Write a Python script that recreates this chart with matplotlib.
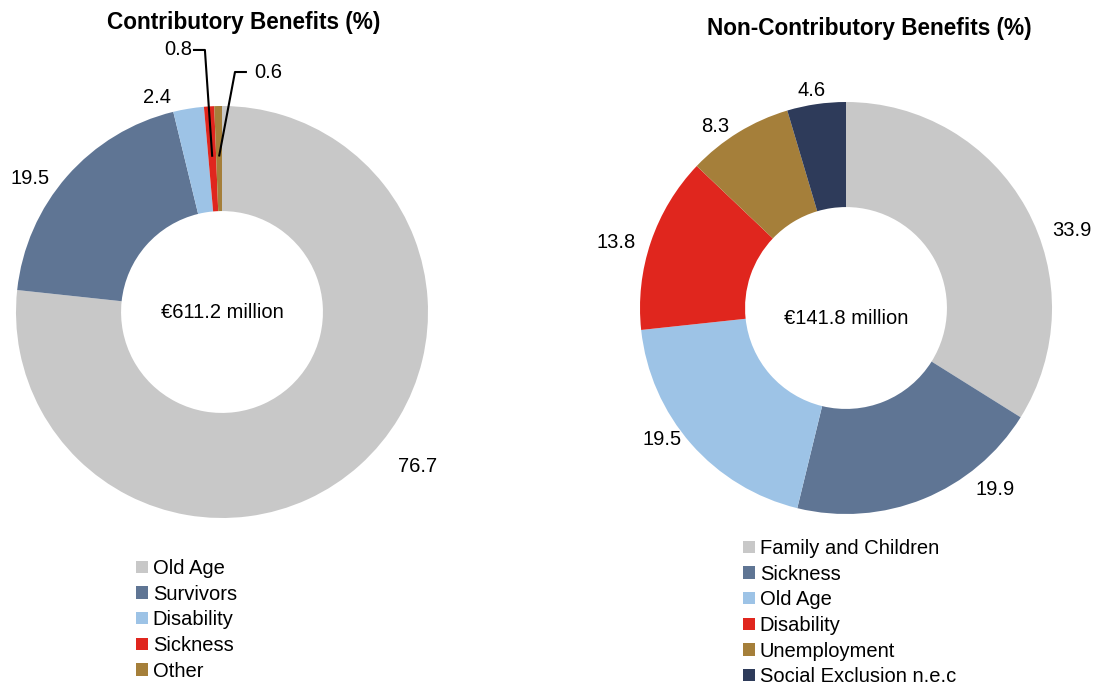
import numpy as np
import matplotlib
matplotlib.use("Agg")
import matplotlib.pyplot as plt
from matplotlib.patches import Patch

plt.rcParams['font.family'] = ['Liberation Sans', 'DejaVu Sans']

# data
contrib_labels = ["Old Age", "Survivors", "Disability", "Sickness", "Other"]
contrib_values = [76.7, 19.5, 2.4, 0.8, 0.6]
contrib_total = "€611.2 million"

noncontrib_labels = ["Family and Children", "Sickness", "Old Age", "Disability",
                     "Unemployment", "Social Exclusion n.e.c"]
noncontrib_values = [33.9, 19.9, 19.5, 13.8, 8.3, 4.6]
noncontrib_total = "€141.8 million"

# styles
contrib_colors = ["#C8C8C8", "#5F7594", "#9DC3E6", "#E0261E", "#A57F3A"]
noncontrib_colors = ["#C8C8C8", "#5F7594", "#9DC3E6", "#E0261E", "#A57F3A", "#2E3B5A"]

# label positions, in units of the outer radius
contrib_label_xy = [(0.951, -0.748), (-0.932, 0.650), (-0.316, 1.039),
                    (-0.214, 1.272), (0.223, 1.165)]
contrib_elbows = {3: ((-0.141, 1.272), (-0.083, 1.272)),
                  4: ((0.121, 1.165), (0.063, 1.165))}
noncontrib_label_xy = [(1.097, 0.374), (0.723, -0.879), (-0.893, -0.636),
                       (-1.117, 0.320), (-0.636, 0.883), (-0.165, 1.058)]

W, H = 1096, 686
FS = 14.5
fig = plt.figure(figsize=(W / 100, H / 100), dpi=100)


def donut(cx, cy, R, values, colors, label_xy, total, total_dy, elbows=None):
    ax = fig.add_axes([(cx - R) / W, (H - cy - R) / H, 2 * R / W, 2 * R / H])
    wedges, _ = ax.pie(values, colors=colors, startangle=90, counterclock=False,
                       radius=1, wedgeprops=dict(width=0.51, linewidth=0))
    ax.set_xlim(-1, 1)
    ax.set_ylim(-1, 1)
    ax.axis('off')
    for i, (v, (x, y)) in enumerate(zip(values, label_xy)):
        ax.text(x, y, f"{v:.1f}", ha='center', va='center', fontsize=FS,
                clip_on=False)
        if elbows and i in elbows:
            w = wedges[i]
            mid = np.deg2rad((w.theta1 + w.theta2) / 2)
            (x0, y0), (x1, y1) = elbows[i]
            ax.plot([x0, x1, 0.755 * np.cos(mid)], [y0, y1, 0.755 * np.sin(mid)],
                    color='black', lw=1.5, clip_on=False, solid_capstyle='butt')
    ax.text(0, total_dy, total, ha='center', va='center', fontsize=FS)
    return ax


donut(222, 312, 206, contrib_values, contrib_colors, contrib_label_xy,
      contrib_total, 0.0, contrib_elbows)
donut(846, 308, 206, noncontrib_values, noncontrib_colors, noncontrib_label_xy,
      noncontrib_total, -0.05)

fig.text(244 / W, 1 - 22 / H, "Contributory Benefits (%)", ha='center',
         va='center', fontsize=16.3, fontweight='bold')
fig.text(869 / W, 1 - 28 / H, "Non-Contributory Benefits (%)", ha='center',
         va='center', fontsize=16.3, fontweight='bold')


def legend(labels, colors, x, y):
    handles = [Patch(facecolor=c, edgecolor='none') for c in colors]
    fig.legend(handles, labels, loc='upper left', bbox_to_anchor=(x / W, 1 - y / H),
               frameon=False, fontsize=FS, handlelength=0.58, handleheight=0.58,
               handletextpad=0.25, labelspacing=0.33, borderpad=0, borderaxespad=0)


legend(contrib_labels, contrib_colors, 136, 559)
legend(noncontrib_labels, noncontrib_colors, 743, 539)

fig.savefig("out.png", dpi=100)
